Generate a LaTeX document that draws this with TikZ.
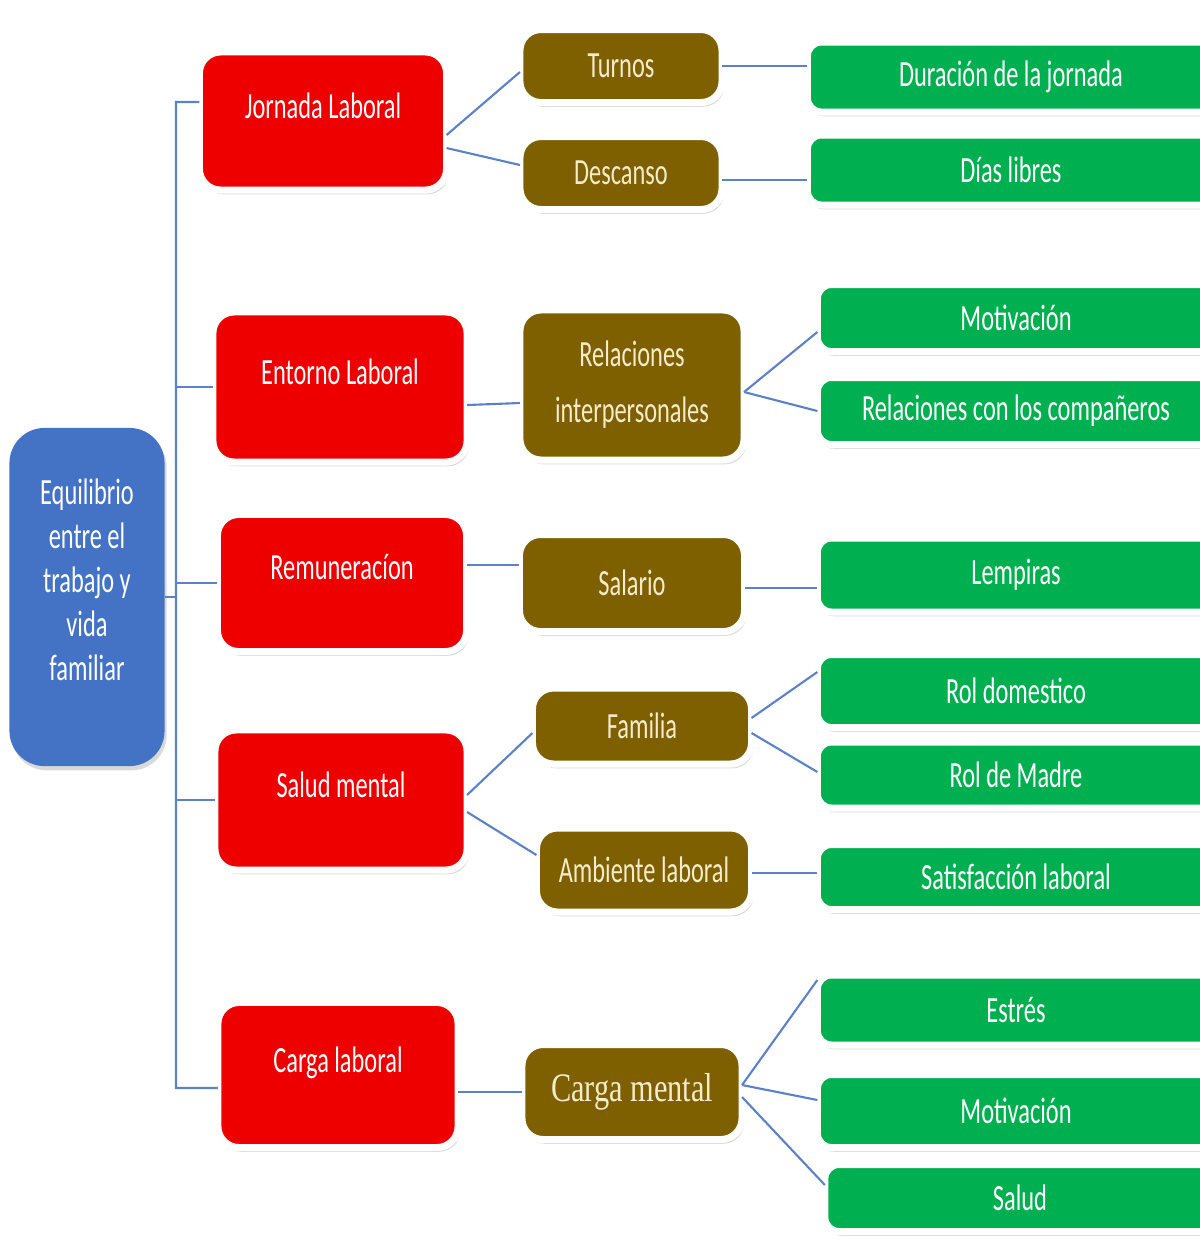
\documentclass[tikz,border=0pt]{standalone}
\usepackage{fontspec}
\setmainfont{Carlito}[FakeStretch=0.66]
\newfontfamily\cargafont{Liberation Serif}[FakeStretch=0.75]
\usetikzlibrary{shadows}

\definecolor{azulraiz}{RGB}{68,114,196}
\definecolor{rojotema}{RGB}{238,0,0}
\definecolor{cafesub}{RGB}{127,96,0}
\definecolor{verdehoja}{RGB}{0,176,80}
\definecolor{crema}{RGB}{246,236,204}
\definecolor{linea}{RGB}{91,130,200}

\tikzset{
  caja/.style={rounded corners=6pt, draw=white, line width=2pt, text=white,
    align=center, inner sep=0pt, outer sep=0pt, font=\fontsize{10.5}{13}\selectfont,
    drop shadow={opacity=0.3, shadow xshift=0.6pt, shadow yshift=-1.2pt}},
  raiz/.style={caja, fill=azulraiz, draw=none, rounded corners=10pt,
    font=\fontsize{10.5}{12.5}\selectfont, text depth=10pt},
  tema/.style={caja, fill=rojotema, text depth=9pt},
  sub/.style={caja, fill=cafesub, text=crema},
  hoja/.style={caja, fill=verdehoja, rounded corners=4pt},
  rama/.style={draw=linea, line width=0.6pt},
}

\begin{document}
\begin{tikzpicture}[x=0.01cm,y=-0.01cm]
  \useasboundingbox (0,0) rectangle (1200,1247);

  % raiz y temas
  \node[raiz, minimum width=1.55cm, minimum height=3.38cm] (equilibrio) at (87,597)
    {Equilibrio\\entre el\\trabajo y\\vida\\familiar};
  \node[tema, minimum width=2.47cm, minimum height=1.38cm] (jornada) at (323,121) {Jornada Laboral};
  \node[tema, minimum width=2.54cm, minimum height=1.50cm] (entorno) at (340,387) {Entorno Laboral};
  \node[tema, minimum width=2.49cm, minimum height=1.37cm] (remuneracion) at (342,583) {Remuneracíon};
  \node[tema, minimum width=2.52cm, minimum height=1.40cm] (saludmental) at (341,800) {Salud mental};
  \node[tema, minimum width=2.40cm, minimum height=1.45cm] (cargalaboral) at (338,1075) {Carga laboral};

  % subtemas
  \node[sub, minimum width=2.02cm, minimum height=0.73cm] (turnos) at (621,66) {Turnos};
  \node[sub, minimum width=2.02cm, minimum height=0.73cm] (descanso) at (621,173) {Descanso};
  \node[sub, minimum width=2.24cm, minimum height=1.50cm, font=\fontsize{10.5}{16}\selectfont]
    (relinter) at (632,385) {Relaciones\\interpersonales};
  \node[sub, minimum width=2.25cm, minimum height=0.97cm] (salario) at (632,583) {Salario};
  \node[sub, minimum width=2.19cm, minimum height=0.76cm] (familia) at (642,726) {Familia};
  \node[sub, minimum width=2.15cm, minimum height=0.84cm] (ambiente) at (644,870) {Ambiente laboral};
  \node[sub, minimum width=2.20cm, minimum height=0.95cm, font=\fontsize{11.5}{13}\cargafont]
    (cargamental) at (632,1092) {Carga mental};

  % hojas
  \node[hoja, minimum width=4.07cm, minimum height=0.70cm] (duracion) at (1011,77) {Duración de la jornada};
  \node[hoja, minimum width=4.07cm, minimum height=0.70cm] (diaslibres) at (1011,170) {Días libres};
  \node[hoja, minimum width=3.97cm, minimum height=0.67cm] (motivacion) at (1016,318) {Motivación};
  \node[hoja, minimum width=3.97cm, minimum height=0.67cm] (companeros) at (1016,411) {Relaciones con los compañeros};
  \node[hoja, minimum width=3.97cm, minimum height=0.74cm] (lempiras) at (1016,575) {Lempiras};
  \node[hoja, minimum width=3.97cm, minimum height=0.73cm] (roldomestico) at (1016,691) {Rol domestico};
  \node[hoja, minimum width=3.97cm, minimum height=0.66cm] (rolmadre) at (1016,775) {Rol de Madre};
  \node[hoja, minimum width=3.97cm, minimum height=0.65cm] (satisfaccion) at (1016,877) {Satisfacción laboral};
  \node[hoja, minimum width=3.97cm, minimum height=0.70cm] (estres) at (1016,1010) {Estrés};
  \node[hoja, minimum width=3.97cm, minimum height=0.73cm] (motivacionb) at (1016,1111) {Motivación};
  \node[hoja, minimum width=3.90cm, minimum height=0.67cm] (saludhoja) at (1020,1198) {Salud};

  % tronco
  \coordinate (tope) at (176,102);
  \coordinate (base) at (176,1088);
  \draw[rama] ([yshift=0.19cm]jornada.west) -- (tope) -- (base) -- ([yshift=-0.13cm]cargalaboral.west);
  \draw[rama] (entorno.west) -- (entorno.west -| tope);
  \draw[rama] (remuneracion.west) -- (remuneracion.west -| tope);
  \draw[rama] (saludmental.west) -- (saludmental.west -| tope);
  \draw[rama] (equilibrio.east) -- (equilibrio.east -| tope);

  % ramas
  \draw[rama] ([yshift=-0.14cm]jornada.east) -- ([yshift=-0.06cm]turnos.west);
  \draw[rama] ([yshift=-0.27cm]jornada.east) -- ([yshift=0.08cm]descanso.west);
  \draw[rama] ([yshift=-0.18cm]entorno.east) -- ([yshift=-0.18cm]relinter.west);
  \draw[rama] ([yshift=0.18cm]remuneracion.east) -- ([yshift=0.18cm]salario.west);
  \draw[rama] ([yshift=0.05cm]saludmental.east) -- ([yshift=-0.07cm]familia.west);
  \draw[rama] ([yshift=-0.12cm]saludmental.east) -- ([yshift=0.15cm]ambiente.west);
  \draw[rama] (cargamental.west -| cargalaboral.east) -- (cargamental.west);

  \draw[rama] (turnos.east) -- (turnos.east -| duracion.west);
  \draw[rama] ([yshift=-0.07cm]descanso.east) -- ([yshift=-0.07cm]descanso.east -| diaslibres.west);
  \draw[rama] ([yshift=-0.07cm]relinter.east) -- ([yshift=-0.14cm]motivacion.west);
  \draw[rama] ([yshift=-0.07cm]relinter.east) -- (companeros.west);
  \draw[rama] ([yshift=-0.05cm]salario.east) -- ([yshift=-0.05cm]salario.east -| lempiras.west);
  \draw[rama] ([yshift=0.08cm]familia.east) -- ([yshift=0.19cm]roldomestico.west);
  \draw[rama] ([yshift=-0.07cm]familia.east) -- ([yshift=0.03cm]rolmadre.west);
  \draw[rama] ([yshift=-0.03cm]ambiente.east) -- ([yshift=-0.03cm]ambiente.east -| satisfaccion.west);
  \draw[rama] ([yshift=0.07cm]cargamental.east) -- ([yshift=0.30cm]estres.west);
  \draw[rama] ([yshift=0.07cm]cargamental.east) -- ([yshift=0.11cm]motivacionb.west);
  \draw[rama] ([yshift=-0.05cm]cargamental.east) -- ([yshift=0.13cm]saludhoja.west);
\end{tikzpicture}
\end{document}
